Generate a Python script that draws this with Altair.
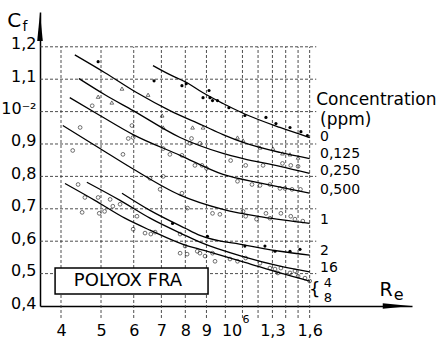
import altair as alt
import pandas as pd

FONT = "DejaVu Sans"

# ---------------- data (Re in units of 10^5, Cf in units of 10^-2) ----------------
curve_names = ["0", "0,125", "0,250", "0,500", "1", "2", "16", "4-8"]

re_c0 = [6.68, 7.34, 8.08, 8.83, 9.87, 11.04, 13.56, 16.0]
cf_c0 = [1.142, 1.114, 1.089, 1.058, 1.025, 0.995, 0.951, 0.920]

re_c0125 = [4.32, 5.11, 6.11, 7.34, 8.83, 9.87, 11.04, 13.56, 16.0]
cf_c0125 = [1.175, 1.120, 1.058, 1.003, 0.957, 0.929, 0.905, 0.874, 0.855]

re_c025 = [4.42, 5.11, 5.98, 7.77, 9.87, 11.04, 13.56, 16.0]
cf_c025 = [1.102, 1.052, 1.003, 0.920, 0.871, 0.855, 0.831, 0.809]

re_c05 = [4.20, 4.97, 5.98, 7.77, 9.87, 12.34, 16.0]
cf_c05 = [1.043, 0.988, 0.929, 0.865, 0.806, 0.778, 0.748]

re_c1 = [4.04, 4.97, 5.94, 7.77, 9.87, 12.34, 16.0]
cf_c1 = [0.957, 0.886, 0.825, 0.742, 0.698, 0.674, 0.655]

re_c2 = [5.62, 6.57, 7.99, 8.68, 11.15, 13.56, 16.0]
cf_c2 = [0.748, 0.695, 0.640, 0.618, 0.588, 0.569, 0.557]

re_c16 = [4.62, 5.56, 6.57, 7.99, 8.68, 11.15, 13.56, 16.0]
cf_c16 = [0.782, 0.726, 0.671, 0.618, 0.597, 0.551, 0.523, 0.505]

re_c48 = [4.09, 4.83, 5.71, 6.57, 7.99, 8.68, 11.15, 13.56, 16.0]
cf_c48 = [0.778, 0.726, 0.671, 0.634, 0.588, 0.575, 0.535, 0.502, 0.477]

# measured points: filled dots
re_dots = [4.92, 6.72, 7.85, 8.04, 8.83, 9.18, 9.31, 9.57, 9.13, 10.2, 11.15, 12.54,
           13.26, 14.34, 15.24, 15.8, 7.45, 9.05, 11.15, 12.47, 13.19, 14.34, 15.16]
cf_dots = [1.154, 1.095, 1.080, 1.086, 1.043, 1.043, 1.034, 1.034, 1.065, 1.012, 0.988, 0.982,
           0.963, 0.951, 0.938, 0.926, 0.655, 0.615, 0.585, 0.585, 0.569, 0.569, 0.575]

# measured points: open triangles
re_tri = [5.62, 6.50, 4.92, 5.31, 7.03, 7.07, 8.33, 8.83, 10.7, 11.04, 12.13, 13.04,
          13.75, 14.34, 15.0]
cf_tri = [1.071, 1.052, 1.046, 1.028, 0.988, 0.951, 0.951, 0.951, 0.920, 0.911, 0.889, 0.886,
          0.871, 0.868, 0.858]

# measured points: open circles
re_open = [4.76, 5.94, 5.82, 5.98, 8.28, 8.68, 8.21, 10.3, 11.2, 12.34, 13.75, 14.4, 15.0,
           4.45, 4.27, 5.65, 7.07, 7.34, 7.85, 8.44, 8.78, 9.0, 10.7, 11.6, 12.13, 12.82,
           13.56, 13.94, 14.5, 15.2,
           6.57, 7.07, 6.95, 7.85, 8.1, 9.31, 9.7, 11.04, 11.2, 11.9, 12.54, 12.82, 13.63,
           14.4, 14.74, 15.4,
           4.4, 4.57, 4.5, 4.92, 4.95, 5.1, 5.26, 5.34, 5.56, 6.11, 5.98, 6.39, 6.6, 6.76,
           7.77, 7.99, 7.77, 8.08, 8.55, 8.68, 8.93, 9.31, 9.44, 10.26, 10.7, 11.2, 12.13,
           12.82, 13.19, 13.4, 13.63, 14.34, 14.74, 15.0, 15.59, 16.0]
cf_open = [1.018, 0.957, 0.917, 0.920, 0.917, 0.902, 0.902, 0.849, 0.834, 0.834, 0.840, 0.834, 0.831,
           0.951, 0.880, 0.868, 0.886, 0.868, 0.865, 0.834, 0.834, 0.825, 0.785, 0.775, 0.772, 0.775,
           0.763, 0.763, 0.760, 0.760,
           0.794, 0.800, 0.760, 0.748, 0.702, 0.686, 0.683, 0.692, 0.677, 0.668, 0.686, 0.671, 0.686,
           0.677, 0.668, 0.662,
           0.775, 0.735, 0.689, 0.735, 0.686, 0.692, 0.729, 0.708, 0.714, 0.677, 0.637, 0.625, 0.622, 0.628,
           0.622, 0.585, 0.563, 0.560, 0.569, 0.563, 0.554, 0.563, 0.538, 0.545, 0.538, 0.548, 0.532,
           0.517, 0.514, 0.502, 0.517, 0.502, 0.508, 0.492, 0.486, 0.477]

# axis ticks / grid
x_ticks = [4, 5, 6, 7, 8, 9, 13, 16]
x_grid = [4, 5, 6, 7, 8, 9, 10, 11, 12, 13, 14, 15, 16]
y_ticks = [0.4, 0.5, 0.6, 0.7, 0.8, 0.9, 1.0, 1.1, 1.2]
y_grid = [0.5, 0.6, 0.7, 0.8, 0.9, 1.0, 1.1, 1.2]

# legend texts at the right end of the curves
legend_texts = ["Concentration", "(ppm)", "0", "0,125", "0,250", "0,500", "1", "2", "16", "4", "8"]
legend_cf = [1.036, 0.974, 0.921, 0.869, 0.817, 0.758, 0.665, 0.570, 0.517, 0.471, 0.426]
legend_re = [16.6, 16.95, 16.95, 16.95, 16.95, 16.95, 16.95, 16.95, 16.95, 17.3, 17.3]
legend_fs = [17, 17, 14, 14, 14, 14, 14, 14, 14, 13, 13]

# ---------------- geometry of scales ----------------
X_DOMAIN = [3.558, 28.31]
Y_DOMAIN = [0.4, 1.3074]
xs = alt.Scale(type="log", domain=X_DOMAIN, nice=False)
ys = alt.Scale(domain=Y_DOMAIN, nice=False, zero=False)

x_axis = alt.Axis(
    values=x_ticks,
    labelExpr="datum.value == 13 ? '1,3' : datum.value == 16 ? '1,6' : format(datum.value, 'd')",
    grid=False, ticks=False, domain=True, domainColor="black", domainWidth=1.5,
    labelFont=FONT, labelFontSize=16, labelColor="black", labelPadding=16,
    labelFlush=False, labelOverlap=False, title=None,
)
y_axis = alt.Axis(
    values=y_ticks,
    labelExpr="(datum.value > 0.99 && datum.value < 1.01) ? '10⁻²' : replace(format(datum.value, '.1f'), '.', ',')",
    grid=False, ticks=False, domain=True, domainColor="black", domainWidth=1.5,
    labelFont=FONT, labelFontSize=16, labelColor="black", labelPadding=4,
    labelOffset=-3, labelFlush=False, labelOverlap=False, title=None,
)


def X(field):
    return alt.X(f"{field}:Q", scale=xs, axis=x_axis)


def Y(field):
    return alt.Y(f"{field}:Q", scale=ys, axis=y_axis)


# ---------------- data frames ----------------
rows = []
for name, rv, cv in zip(curve_names,
                        [re_c0, re_c0125, re_c025, re_c05, re_c1, re_c2, re_c16, re_c48],
                        [cf_c0, cf_c0125, cf_c025, cf_c05, cf_c1, cf_c2, cf_c16, cf_c48]):
    for r, c in zip(rv, cv):
        rows.append({"conc": name, "re": r, "cf": c})
curves_df = pd.DataFrame(rows)

vgrid_df = pd.DataFrame({"re": x_grid, "cf": [0.363] * len(x_grid), "cf2": [1.2] * len(x_grid)})
hgrid_df = pd.DataFrame({"cf": y_grid, "re": [X_DOMAIN[0]] * len(y_grid), "re2": [16.6] * len(y_grid)})
dots_df = pd.DataFrame({"re": re_dots, "cf": cf_dots})
tri_df = pd.DataFrame({"re": re_tri, "cf": cf_tri})
open_df = pd.DataFrame({"re": re_open, "cf": cf_open})
legend_df = pd.DataFrame({"t": legend_texts, "re": legend_re, "cf": legend_cf, "fs": legend_fs})

# ---------------- layers ----------------
grid_style = dict(color="#3a3a3a", strokeWidth=0.9, strokeDash=[3, 2])

vgrid = alt.Chart(vgrid_df).mark_rule(**grid_style).encode(x=X("re"), y=Y("cf"), y2="cf2:Q")
hgrid = alt.Chart(hgrid_df).mark_rule(**grid_style).encode(x=X("re"), x2="re2:Q", y=Y("cf"))

lines = alt.Chart(curves_df).mark_line(color="black", strokeWidth=1.3, interpolate="monotone").encode(
    x=X("re"), y=Y("cf"), detail="conc:N", order="re:Q"
)

open_pts = alt.Chart(open_df).mark_point(shape="circle", filled=False, color="black",
                                          size=14, strokeWidth=0.8).encode(x=X("re"), y=Y("cf"))
tri_pts = alt.Chart(tri_df).mark_point(shape="triangle-up", filled=False, color="black",
                                        size=14, strokeWidth=0.8).encode(x=X("re"), y=Y("cf"))
dot_pts = alt.Chart(dots_df).mark_circle(color="black", size=10, opacity=1).encode(x=X("re"), y=Y("cf"))

legend = alt.Chart(legend_df).mark_text(font=FONT, align="left", baseline="middle",
                                         color="black").encode(
    x=X("re"), y=Y("cf"), text="t:N", size=alt.Size("fs:Q", scale=None, legend=None))

# bracket joining 4 and 8
brace_df = pd.DataFrame({"t": ["{"], "re": [16.45], "cf": [0.449]})
brace = alt.Chart(brace_df).mark_text(font=FONT, fontSize=18, align="center", baseline="middle",
                                       color="black").encode(x=X("re"), y=Y("cf"), text="t:N")

# 10^6 tick label (drawn at the 10^6 grid line, with its exponent)
ten6_df = pd.DataFrame({"t": ["10", "6"], "re": [9.81, 11.0], "cf": [0.323, 0.357], "fs": [16, 11]})
ten6 = alt.Chart(ten6_df).mark_text(font=FONT, align="left", baseline="middle",
                                     color="black").encode(
    x=X("re"), y=Y("cf"), text="t:N", size=alt.Size("fs:Q", scale=None, legend=None))

# POLYOX FRA box
box_df = pd.DataFrame({"re": [3.87], "re2": [9.08], "cf": [0.517], "cf2": [0.437],
                       "t": ["POLYOX  FRA"], "tre": [5.81], "tcf": [0.477]})
box = alt.Chart(box_df).mark_rect(fill="white", stroke="black", strokeWidth=1.5).encode(
    x=X("re"), x2="re2:Q", y=Y("cf"), y2="cf2:Q")
box_text = alt.Chart(box_df).mark_text(font=FONT, fontSize=18, align="center", baseline="middle",
                                        color="black").encode(
    x=alt.X("tre:Q", scale=xs, axis=x_axis), y=alt.Y("tcf:Q", scale=ys, axis=y_axis), text="t:N")

# axis titles Cf and Re (with subscripts) and arrow heads
title_df = pd.DataFrame({
    "t": ["C", "f", "R", "e"],
    "re": [3.08, 3.27, 24.5, 26.3],
    "cf": [1.28, 1.262, 0.449, 0.434],
    "fs": [20, 14, 19, 16],
})
titles = alt.Chart(title_df).mark_text(font=FONT, align="center", baseline="middle", color="black").encode(
    x=X("re"), y=Y("cf"), text="t:N", size=alt.Size("fs:Q", scale=None, legend=None))

arrow_x_df = pd.DataFrame({"re": [26.0], "cf": [0.4]})
arrow_y_df = pd.DataFrame({"re": [X_DOMAIN[0]], "cf": [1.261]})
arrow_x = alt.Chart(arrow_x_df).mark_point(shape="M-1,-0.2L1,0L-1,0.2Z", filled=True, color="black",
                                            size=784, opacity=1).encode(x=X("re"), y=Y("cf"))
arrow_y = alt.Chart(arrow_y_df).mark_point(shape="M-0.2,1L0,-1L0.2,1Z", filled=True, color="black",
                                            size=784, opacity=1).encode(x=X("re"), y=Y("cf"))

chart = alt.layer(
    vgrid, hgrid, lines, open_pts, tri_pts, dot_pts, box, box_text, legend, brace, ten6, titles,
    arrow_x, arrow_y,
).properties(
    width=372, height=294,
    padding={"left": 40, "top": 12, "right": 34, "bottom": 36},
    autosize=alt.AutoSizeParams(type="none"),
    background="white",
).configure_view(stroke=None)

chart.save("out.html", embed_options={"renderer": "svg", "actions": False})
